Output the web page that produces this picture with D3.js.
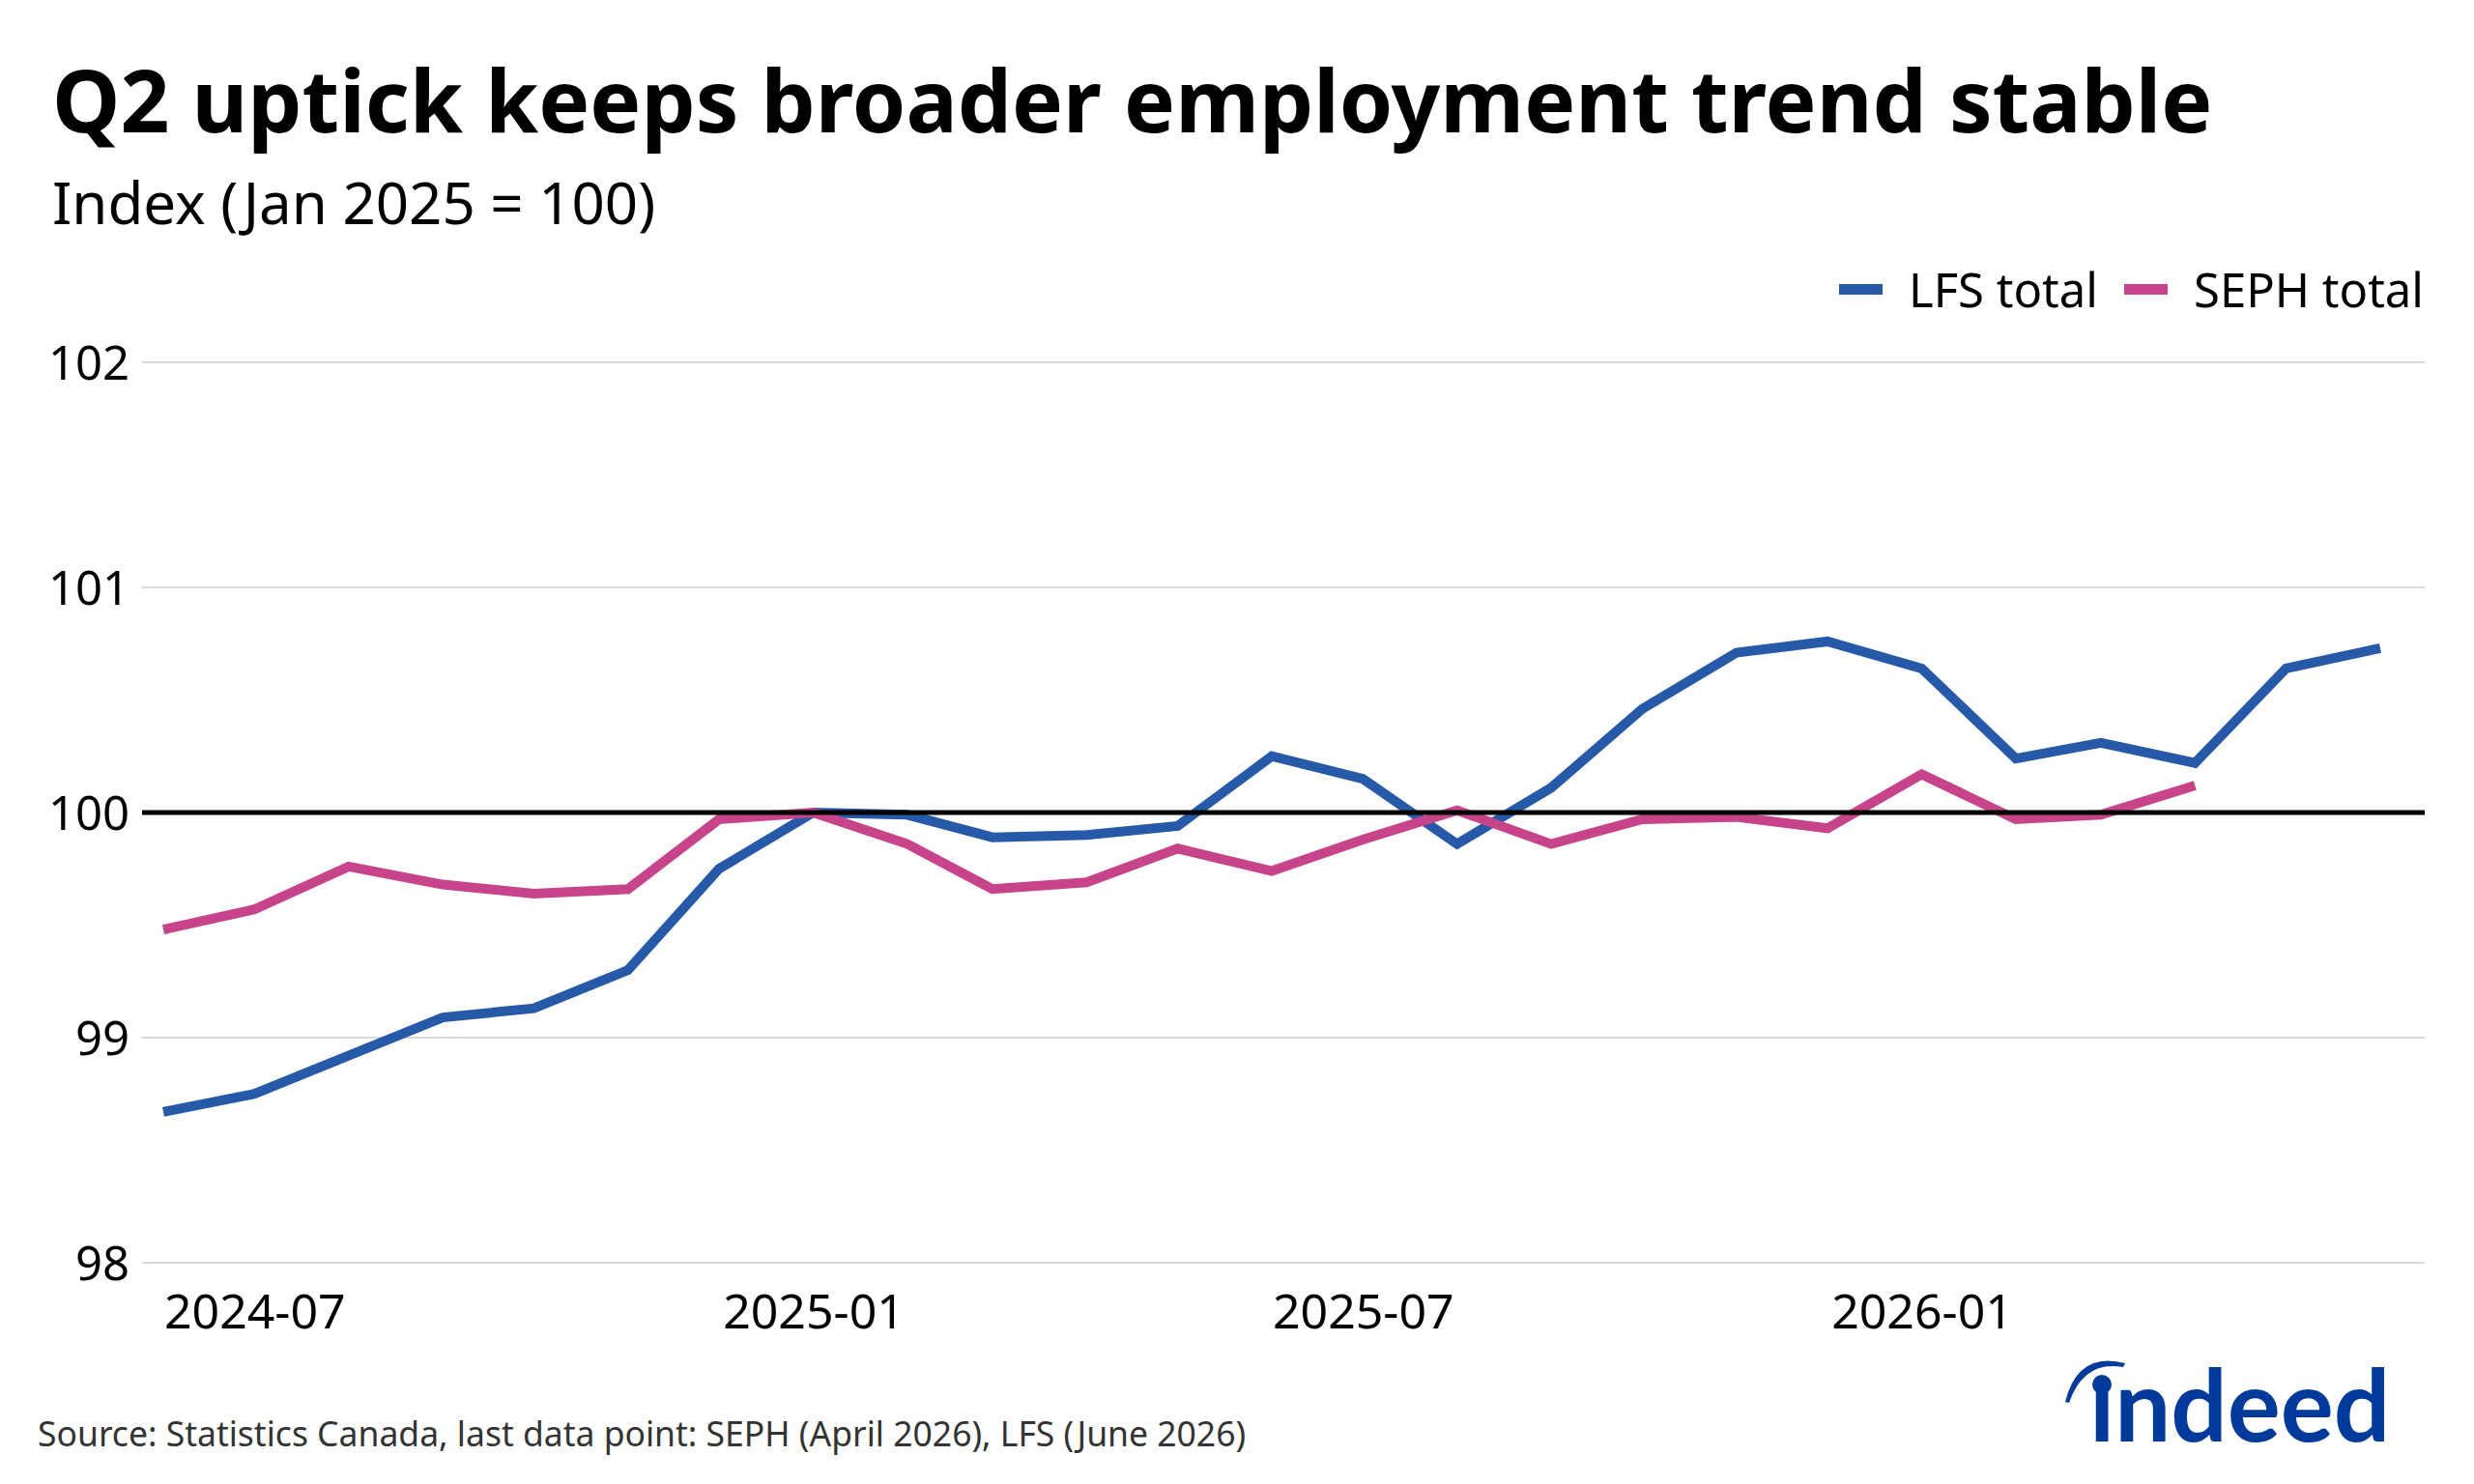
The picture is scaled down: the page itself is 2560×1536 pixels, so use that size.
<!DOCTYPE html>
<html>
<head>
<meta charset="utf-8">
<script src="https://cdn.jsdelivr.net/npm/d3@7"></script>
<style>
  body { margin: 0; background: #fff; }
  svg { display: block; font-family: "Noto Sans", "Open Sans", sans-serif; }
</style>
</head>
<body>
<script>
// Data
const months = [
  "2024-06", "2024-07", "2024-08", "2024-09", "2024-10", "2024-11", "2024-12",
  "2025-01", "2025-02", "2025-03", "2025-04", "2025-05", "2025-06", "2025-07",
  "2025-08", "2025-09", "2025-10", "2025-11", "2025-12", "2026-01", "2026-02",
  "2026-03", "2026-04", "2026-05", "2026-06"
];
const lfsTotal = [
  98.67, 98.75, 98.92, 99.09, 99.13, 99.30, 99.75, 100.00, 99.99, 99.89, 99.90,
  99.94, 100.25, 100.15, 99.86, 100.11, 100.46, 100.71, 100.76, 100.64, 100.24,
  100.31, 100.22, 100.64, 100.73
];
const sephTotal = [
  99.48, 99.57, 99.76, 99.68, 99.64, 99.66, 99.97, 100.00, 99.86, 99.66, 99.69,
  99.84, 99.74, 99.88, 100.01, 99.86, 99.97, 99.98, 99.93, 100.17, 99.97, 99.99,
  100.12
];
const yTicks = [98, 99, 100, 101, 102];
const xTickLabels = ["2024-07", "2025-01", "2025-07", "2026-01"];
const seriesNames = ["LFS total", "SEPH total"];
const seriesColors = ["#2659a8", "#c8448a"];

const width = 2560;
const height = 1536;
const plot = { left: 147, right: 2509, top: 375, bottom: 1307 };

const parseMonth = d3.timeParse("%Y-%m");

const svg = d3.select("body")
  .append("svg")
  .attr("width", width)
  .attr("height", height);

svg.append("rect")
  .attr("width", width)
  .attr("height", height)
  .attr("fill", "#fff");

// Title and subtitle
svg.append("text")
  .attr("x", 54)
  .attr("y", 137)
  .attr("font-size", 89)
  .attr("font-weight", 700)
  .attr("fill", "#000")
  .text("Q2 uptick keeps broader employment trend stable");

svg.append("text")
  .attr("x", 54)
  .attr("y", 232)
  .attr("font-size", 60)
  .attr("fill", "#000")
  .text("Index (Jan 2025 = 100)");

// Scales
const x = d3.scaleTime()
  .domain([parseMonth(months[0]), parseMonth(months[months.length - 1])])
  .range([169, 2463]);

const y = d3.scaleLinear()
  .domain([98, 102])
  .range([plot.bottom, plot.top]);

// Gridlines
svg.append("g")
  .selectAll("line")
  .data(yTicks.filter(d => d !== 100))
  .enter()
  .append("line")
  .attr("x1", plot.left)
  .attr("x2", plot.right)
  .attr("y1", d => y(d))
  .attr("y2", d => y(d))
  .attr("stroke", "#d9d9d9")
  .attr("stroke-width", 2);

// Y axis
const yAxis = d3.axisLeft(y)
  .tickValues(yTicks)
  .tickSize(0)
  .tickPadding(0)
  .tickFormat(d3.format("d"));

svg.append("g")
  .attr("transform", "translate(134, 0)")
  .call(yAxis)
  .call(g => g.select(".domain").remove())
  .selectAll("text")
  .attr("font-family", "Noto Sans")
  .attr("font-size", 49)
  .attr("fill", "#000")
  .attr("dy", "0.35em");

// X axis
const xAxis = d3.axisBottom(x)
  .tickValues(xTickLabels.map(parseMonth))
  .tickSize(0)
  .tickPadding(0)
  .tickFormat(d3.timeFormat("%Y-%m"));

svg.append("g")
  .attr("transform", "translate(0, 1375)")
  .call(xAxis)
  .call(g => g.select(".domain").remove())
  .selectAll("text")
  .attr("font-family", "Noto Sans")
  .attr("font-size", 50)
  .attr("fill", "#000")
  .attr("dy", 0);

// Lines
const line = d3.line()
  .x((d, i) => x(parseMonth(months[i])))
  .y(d => y(d));

[lfsTotal, sephTotal].forEach((series, i) => {
  svg.append("path")
    .datum(series)
    .attr("fill", "none")
    .attr("stroke", seriesColors[i])
    .attr("stroke-width", 10)
    .attr("stroke-linejoin", "miter")
    .attr("d", line);
});

// Reference line at 100
svg.append("line")
  .attr("x1", plot.left)
  .attr("x2", plot.right)
  .attr("y1", y(100))
  .attr("y2", y(100))
  .attr("stroke", "#000")
  .attr("stroke-width", 5);

// Legend
const legendX = [1903, 2198];
const legend = svg.append("g");
seriesNames.forEach((name, i) => {
  legend.append("rect")
    .attr("x", legendX[i])
    .attr("y", 294)
    .attr("width", 45)
    .attr("height", 11)
    .attr("fill", seriesColors[i]);
  legend.append("text")
    .attr("x", legendX[i] + 72)
    .attr("y", 318)
    .attr("font-size", 49)
    .attr("fill", "#000")
    .text(name);
});

// Source
svg.append("text")
  .attr("x", 39)
  .attr("y", 1497)
  .attr("font-size", 35.5)
  .attr("fill", "#333")
  .text("Source: Statistics Canada, last data point: SEPH (April 2026), LFS (June 2026)");

// Indeed logo
const logo = svg.append("g").attr("fill", "#003a9b");
logo.append("text")
  .attr("x", 2162)
  .attr("y", 1492)
  .attr("font-family", "Lato")
  .attr("font-weight", 700)
  .attr("font-size", 103)
  .text("\u0131ndeed");
logo.append("circle")
  .attr("cx", 2175)
  .attr("cy", 1433)
  .attr("r", 10);
logo.append("path")
  .attr("d", "M2137,1451 Q2150,1398 2199,1411 L2197,1415 Q2156,1408 2141,1452 Z");
</script>
</body>
</html>
